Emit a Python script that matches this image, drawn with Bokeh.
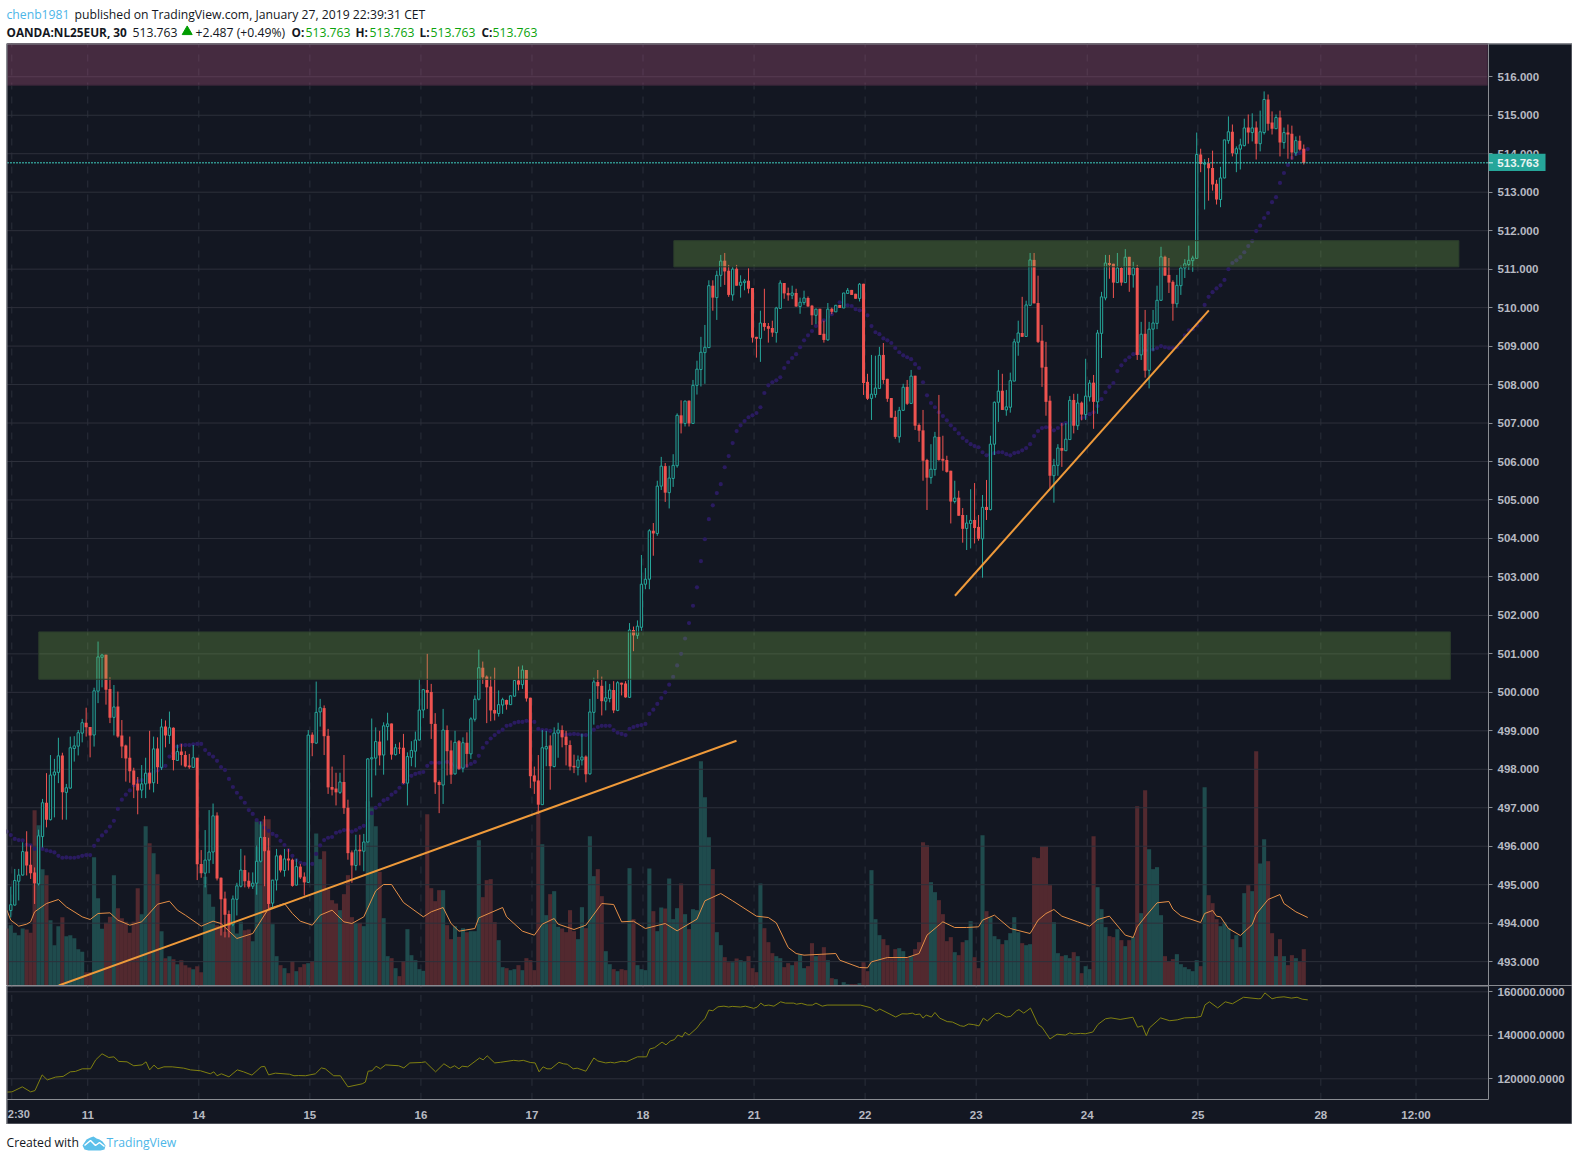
from bokeh.plotting import figure
from bokeh.layouts import column
from bokeh.core.properties import value
from bokeh.models import (Range1d, LinearAxis, FixedTicker, NumeralTickFormatter, Label, Span)
from bokeh.embed import file_html
from bokeh.resources import INLINE

# ---------- data ----------
direction = ("UUUUDDDUUD" "UUUDUUUUUD" "DUUUDDUDDD" "DDDUUDUDUD" "UDUDDDUDDU" "UUDDDDUUUD" "DUUUDDUUDU" "DDUDDUDUUD"
             "DDDUDDDUDU" "UUUDUUDUDD" "UUUUUDDDDU" "DDUDUDUUUD" "DDDUUDUUDU" "DDDDUUDUUD" "DDDUUDUUDD" "UUDUDDUDUU"
             "UUDUUDUUUD" "UDUUUUUDUU" "DDUDUUDDDU" "DDDUUDDUDU" "UDDUDDUDUD" "UUDDUDDUUU" "DDDDUUDUDD" "DDUUDDDDUD"
             "DUUDDUDUUU" "DUUUUDUUDD" "DDDUUDUUDU" "DUUDUUUDDU" "DUDUDUDUUU" "UDDDUUUUUU" "DUDDDUUUDU" "UUDUDUUDDU" "DUDDUDD")

highs = [
494.95,495.41,495.41,496.1,496.39,496.02,495.45,496.43,497.23,497.9,498.37,498.27,498.82,498.43,497.62,498.85,498.86,499.02,499.31,499.6,
499.1,500.12,501.32,501.0,500.98,500.39,500.19,500.02,499.28,498.64,498.85,498.04,497.8,498.11,498.3,499.0,498.85,498.83,499.31,499.27,
499.5,499.09,498.64,498.66,498.47,498.4,498.63,498.3,495.9,496.42,496.94,497.11,496.88,495.19,494.82,494.33,494.72,495.05,495.93,495.76,
495.32,495.32,496.02,496.64,496.79,496.22,495.12,495.93,495.78,495.93,495.93,495.68,495.67,495.54,495.32,499.02,498.96,500.28,
499.83,499.66,499.05,498.07,497.91,497.91,498.37,497.21,495.89,496.3,496.3,496.32,498.29,499.32,499.09,499.0,499.22,499.47,499.19,498.66,
498.7,498.92,498.44,498.73,498.98,500.35,500.09,501.0,500.22,499.46,497.71,499.57,499.14,498.75,499.0,498.76,498.83,498.96,499.35,499.92,
501.11,500.8,500.44,500.41,500.64,500.05,499.86,499.81,499.92,500.32,500.67,500.7,500.58,499.86,498.07,498.37,499.02,499.0,498.88,499.09,
499.21,499.14,499.0,498.75,498.38,498.36,498.92,498.36,499.83,500.38,500.58,500.41,500.29,500.22,500.29,500.29,500.25,500.29,501.8,501.71,
501.87,503.57,503.23,504.24,504.4,505.5,506.12,505.96,505.89,506.19,507.25,507.59,507.58,507.59,508.12,508.62,509.24,509.55,510.71,510.71,
510.96,511.37,511.42,511.11,511.06,511.11,510.84,510.74,511.02,510.51,509.24,509.92,510.49,509.6,509.66,510.02,510.71,510.64,510.52,510.57,
510.49,510.26,510.44,510.29,510.07,509.97,509.97,509.66,510.12,510.0,510.07,510.07,510.38,510.51,510.46,510.36,510.64,510.62,508.28,508.77,
508.75,508.98,509.08,508.15,507.65,507.32,507.42,508.02,508.12,508.38,508.23,506.99,507.34,506.07,506.45,506.77,507.73,506.67,506.15,505.76,
505.5,505.24,504.79,504.61,505.28,505.44,504.61,505.13,505.52,506.67,507.56,508.38,508.28,507.86,508.31,509.19,509.66,510.28,510.18,511.42,
511.42,510.83,509.55,509.11,507.71,506.07,506.45,507.0,507.0,507.7,507.76,507.76,507.56,508.67,508.12,508.25,509.42,510.41,511.37,511.37,
511.14,511.42,511.05,511.52,511.32,511.19,511.11,509.63,509.94,509.63,509.94,510.57,511.58,511.35,511.29,510.71,510.85,511.09,511.26,511.61,
511.35,514.55,514.13,513.86,513.89,514.08,513.32,513.66,514.36,514.97,514.76,514.19,514.39,514.91,515.02,515.05,514.84,515.12,515.62,515.54,
515.1,515.02,515.12,514.68,514.76,514.73,514.45,514.47,514.24]

body_tops = [
494.48,495.11,495.25,495.86,495.86,495.52,495.32,496.27,497.13,497.13,497.85,497.93,498.35,498.36,497.52,498.56,498.61,498.95,499.21,499.21,
499.1,500.04,500.92,500.97,500.98,500.09,499.62,499.63,498.88,498.62,498.3,497.97,497.63,497.62,497.9,497.91,498.53,498.54,499.1,499.11,
499.08,499.08,498.46,498.46,498.37,498.1,498.3,498.3,495.54,495.64,495.85,496.79,496.8,495.18,494.64,494.24,494.63,494.97,495.38,495.38,
495.1,495.04,495.61,496.23,496.24,495.89,495.12,495.75,495.76,495.67,495.68,495.65,495.47,495.47,495.21,498.89,498.9,499.48,
499.6,499.59,498.87,497.54,497.5,497.67,497.67,497.0,495.84,495.9,495.91,496.11,498.27,498.3,498.72,498.72,499.13,499.18,499.19,498.56,
498.56,498.56,498.33,498.49,498.76,499.54,500.07,500.06,500.01,499.18,497.67,499.02,499.02,498.49,498.7,498.73,498.69,498.69,499.31,499.82,
500.64,500.64,500.41,500.15,499.54,499.68,499.81,499.8,499.91,500.31,500.31,500.58,500.58,499.86,497.84,497.71,498.56,498.59,498.62,498.94,
499.02,499.02,498.85,498.63,498.09,498.24,498.32,498.33,499.49,500.27,500.27,500.17,499.86,500.06,500.06,500.25,500.25,500.23,501.62,501.62,
501.72,502.81,502.94,504.2,504.2,505.36,505.88,505.88,505.57,505.9,507.2,507.2,507.57,507.58,507.98,508.4,508.84,508.97,510.57,510.57,
510.84,511.21,511.22,510.96,511.0,511.01,510.66,510.69,510.7,510.51,509.24,509.6,509.6,509.52,509.47,509.99,510.64,510.64,510.38,510.38,
510.38,510.14,510.25,510.25,510.05,509.96,509.97,509.32,509.96,509.97,510.06,510.07,510.38,510.45,510.46,510.36,510.61,510.62,508.07,507.75,
507.91,508.76,508.77,508.15,507.65,507.16,507.33,507.93,507.94,508.22,508.23,506.95,506.81,506.04,505.8,506.64,506.64,506.07,506.04,505.76,
505.05,505.06,504.61,504.4,504.47,504.48,504.3,504.81,504.82,506.45,507.54,507.83,507.84,507.42,508.1,509.11,509.34,509.34,510.07,511.24,
511.24,510.12,509.14,508.46,507.58,505.9,506.35,506.35,506.58,507.59,507.6,507.52,507.53,507.7,508.04,508.05,509.34,510.28,511.16,511.16,
511.14,511.03,511.03,511.31,511.32,511.03,511.03,509.31,509.32,509.44,509.6,510.19,511.32,511.32,510.85,510.67,510.58,511.03,511.14,511.23,
511.29,513.98,513.98,513.76,513.75,513.63,513.22,513.37,514.36,514.57,514.57,514.13,514.23,514.67,514.68,514.67,514.68,514.57,515.41,515.41,
514.81,514.94,514.94,514.55,514.55,514.52,514.34,514.34,514.13]

body_bottoms = [
494.33,494.47,495.09,495.25,495.5,495.3,495.04,495.02,496.25,496.69,496.69,497.85,497.92,497.4,497.4,497.51,498.54,498.6,498.94,499.09,
498.88,498.89,500.03,500.91,500.07,499.34,499.35,498.85,498.59,498.28,497.95,497.6,497.45,497.46,497.62,497.63,497.65,498.05,498.05,498.88,
498.88,498.24,498.23,498.37,498.07,498.05,498.05,495.53,495.3,495.3,495.64,495.85,495.16,494.62,494.22,493.94,493.96,494.62,494.96,495.09,
494.95,494.96,495.04,495.61,495.87,494.5,494.52,495.12,495.37,495.37,495.63,494.97,494.99,495.19,495.06,495.06,498.68,498.68,
499.49,498.86,497.53,497.47,497.4,497.4,496.99,495.82,495.5,495.5,495.87,495.87,496.11,498.27,498.29,498.36,498.37,499.11,498.38,498.38,
498.54,497.64,497.64,498.31,498.47,498.76,499.54,499.99,499.18,497.66,497.59,497.59,498.47,497.86,497.88,498.01,498.03,498.4,498.4,499.3,
499.82,500.39,500.13,499.53,499.45,499.45,499.67,499.68,499.68,499.9,500.2,500.2,499.84,497.82,497.68,497.08,497.08,498.53,498.08,498.07,
498.94,498.83,498.63,498.07,498.05,498.05,498.24,497.87,497.88,499.48,500.16,499.77,499.77,499.84,499.53,499.53,500.2,499.87,499.87,501.48,
501.48,501.69,502.81,502.94,504.13,504.13,505.36,505.19,505.19,505.56,505.89,506.99,506.99,506.99,506.99,507.98,508.39,508.83,508.96,510.26,
510.26,510.84,510.94,510.33,510.33,510.57,510.58,510.65,510.49,509.22,509.19,509.2,509.5,509.45,509.35,509.35,509.98,510.37,510.32,510.32,
510.03,510.03,510.13,510.03,509.8,509.8,509.29,509.16,509.16,509.89,509.89,509.99,509.99,510.37,510.33,510.23,510.24,508.04,507.63,507.64,
507.74,507.9,508.12,507.63,507.14,506.64,506.64,507.33,507.5,507.51,506.93,506.8,506.02,505.58,505.58,505.79,506.04,506.02,505.73,504.96,
504.96,504.59,504.25,504.26,504.39,504.27,503.99,503.99,504.74,504.75,506.45,507.54,507.34,507.34,507.41,508.09,509.1,509.24,509.25,510.06,
510.11,509.11,508.44,507.55,505.63,505.63,505.9,506.28,506.28,506.57,506.93,506.93,507.22,507.22,507.68,507.55,507.55,509.33,510.25,511.11,
510.65,510.65,510.65,510.65,510.85,510.85,508.77,508.77,508.36,508.37,509.44,509.59,510.19,510.83,510.65,510.1,510.1,510.57,511.03,511.12,
511.22,511.28,513.73,513.73,513.62,513.2,512.81,512.81,513.37,514.34,514.01,514.0,514.12,514.21,514.55,514.55,514.26,514.26,514.55,514.78,
514.65,514.65,514.29,514.29,514.5,514.03,514.02,514.11,513.76]

lows = [
494.15,494.46,494.59,495.24,495.24,495.15,494.5,494.98,495.97,496.49,496.67,496.75,497.64,496.69,496.69,497.49,498.2,498.36,498.7,498.85,
498.31,498.59,499.72,500.13,499.68,499.2,498.88,498.82,498.29,497.68,497.65,497.25,496.83,497.25,497.25,497.47,497.4,497.62,497.98,498.57,
498.66,497.97,498.23,498.1,498.05,498.01,498.05,495.12,495.18,494.93,495.3,495.54,495.11,493.68,493.63,493.63,493.92,494.2,494.93,494.93,
494.9,494.89,494.74,495.58,494.96,494.37,494.4,494.85,495.32,495.21,495.37,494.95,494.98,495.15,494.72,495.06,498.34,498.66,
499.11,498.37,497.36,497.32,497.06,497.36,496.84,495.65,495.05,495.37,495.5,495.35,496.1,497.27,497.84,498.1,497.86,498.75,498.25,498.36,
498.4,497.62,497.06,498.08,498.05,498.75,499.33,499.57,498.79,497.36,496.86,497.1,497.84,497.62,497.86,497.98,497.92,498.05,498.27,499.24,
499.79,500.22,499.2,499.25,499.27,499.37,499.44,499.55,499.67,499.89,500.05,500.09,499.76,497.51,497.36,496.84,497.08,498.08,497.47,498.05,
498.3,498.57,498.1,497.97,497.9,497.84,498.1,497.66,497.86,499.16,499.83,499.4,499.53,499.74,499.46,499.51,499.92,499.86,499.86,501.07,
501.39,501.6,502.68,502.68,503.55,504.07,505.26,504.95,504.78,505.34,505.84,506.73,506.91,506.91,506.99,507.74,507.95,508.02,508.96,509.92,
509.68,510.54,510.59,510.28,510.18,510.57,510.26,510.45,510.37,509.09,508.7,508.59,509.4,509.09,509.24,509.09,509.98,510.23,510.18,510.22,
510.02,509.84,510.07,510.02,509.55,509.57,509.29,509.09,509.14,509.83,509.89,509.99,509.99,510.37,510.33,510.23,510.16,507.73,507.6,507.08,
507.66,507.9,508.02,507.55,507.14,506.59,506.49,507.32,507.47,507.5,506.82,506.51,505.5,504.74,505.42,505.63,506.02,505.76,505.71,504.39,
504.91,504.59,503.89,503.7,503.74,503.87,503.94,502.98,504.48,504.73,506.17,507.03,507.34,507.19,507.27,508.09,508.75,509.24,509.24,510.06,
510.11,509.08,507.94,507.19,505.31,504.93,505.63,505.86,506.28,506.56,506.73,506.82,507.07,507.08,507.56,506.85,507.24,508.69,510.19,510.75,
510.25,510.65,510.57,510.65,510.41,510.52,508.64,508.64,508.18,507.9,508.88,509.44,510.18,510.83,510.38,509.66,510.0,510.33,510.77,510.98,
510.93,511.28,513.52,512.55,512.78,513.04,512.68,512.61,513.36,514.26,513.93,513.52,513.59,514.19,514.26,514.32,513.85,514.06,514.5,514.6,
514.5,514.65,513.93,514.13,513.87,513.85,513.95,514.08,513.72]

volume_first = 171
volumes = [
181,158,151,171,168,158,526,481,349,331,196,121,178,205,148,151,142,109,101,40,
40,385,262,170,188,206,331,232,202,191,158,191,292,214,478,427,397,334,163,82,
88,79,64,76,61,54,49,58,40,326,274,236,181,176,161,191,181,156,191,166,
168,133,493,490,499,499,184,88,61,52,37,73,43,55,64,67,73,456,
379,403,288,256,246,226,274,331,205,188,188,178,553,536,478,341,202,88,82,52,
28,73,169,91,76,49,44,514,292,253,286,286,181,139,178,146,172,160,163,163,
436,265,316,319,190,136,55,52,46,49,61,46,82,76,46,526,424,211,274,283,
176,171,160,226,163,139,235,172,448,328,349,268,103,64,49,43,49,46,352,199,
61,49,46,351,223,163,234,231,321,199,232,306,214,169,229,226,673,565,445,349,
160,121,85,70,70,81,76,73,88,52,40,306,172,130,97,88,82,55,67,61,
73,94,52,58,127,88,91,115,76,22,19,1,10,4,4,4,7,70,43,346,
199,151,139,121,82,109,112,103,82,88,109,130,430,421,310,280,256,214,133,145,
100,91,130,136,193,85,52,451,223,205,148,139,124,136,157,205,160,127,121,124,
385,382,418,418,301,190,97,88,91,82,100,88,37,58,49,448,295,229,175,148,
145,169,136,118,136,146,538,217,586,409,349,355,211,88,73,79,94,64,55,49,
43,76,58,595,271,247,199,178,190,172,139,151,115,277,301,283,703,366,439,373,
157,88,139,88,61,91,82,72,109]

vma_idx = [0,1,3,5,6,7,10,13,15,19,21,23,26,28,31,34,38,41,43,45,49,52,54,58,62,66,70,72,74,77,79,82,85,87,90,93,95,97,100,105,107,110,112,114,118,119,125,126,130,133,135,138,139,143,146,150,153,155,158,161,166,169,174,176,180,183,189,192,194,197,199,201,209,210,215,217,218,222,227,230,232,236,239,242,245,246,249,253,258,260,262,264,266,270,273,275,278,282,284,285,287,290,293,294,296,301,302,304,305,306,308,311,314,315,318,321,322,325,328]
vma_val = [226,196,178,184,191,221,246,258,236,206,198,216,218,196,181,191,244,253,226,211,178,193,186,141,156,231,246,216,193,181,211,226,191,186,206,284,303,303,249,206,221,234,186,163,171,203,234,206,163,151,184,201,184,168,181,246,243,191,193,171,186,164,199,254,276,254,208,204,188,114,96,91,96,76,54,53,71,84,84,96,151,191,174,174,176,196,211,171,156,196,216,228,208,191,178,198,208,151,144,176,206,248,252,229,209,189,216,225,208,206,171,150,183,214,258,273,246,221,204]

average_dots = [
496.38,496.29,496.19,496.16,496.15,496.04,496.02,495.93,495.93,495.93,495.89,495.87,495.84,495.75,495.7,495.71,495.7,495.7,495.72,495.75,
495.77,495.77,496.01,496.16,496.28,496.38,496.51,496.66,496.97,497.21,497.34,497.45,497.58,497.69,497.72,497.84,497.88,497.92,497.97,498.05,
498.09,498.33,498.42,498.59,498.63,498.63,498.63,498.65,498.66,498.66,498.5,498.4,498.33,498.22,498.06,497.98,497.75,497.54,497.39,497.26,
497.13,496.94,496.84,496.68,496.61,496.48,496.4,496.32,496.27,496.14,496.03,495.9,495.75,495.64,495.57,495.54,495.54,495.54,495.8,
496.02,496.16,496.22,496.24,496.35,496.38,496.42,496.42,496.38,496.42,496.48,496.53,496.67,496.86,497.0,497.08,497.19,497.23,497.34,497.41,
497.52,497.64,497.72,497.83,497.88,497.91,497.93,498.09,498.17,498.17,498.17,498.17,498.19,498.14,498.09,498.04,498.04,498.09,498.14,498.19,
498.35,498.56,498.69,498.8,498.89,498.97,499.03,499.13,499.15,499.21,499.23,499.23,499.26,499.24,499.23,499.05,499.02,499.02,499.0,498.89,
498.97,498.89,498.9,498.91,498.92,498.91,498.89,498.89,498.94,499.03,499.1,499.13,499.13,499.13,499.02,498.95,498.92,498.89,499.05,499.1,
499.13,499.15,499.18,499.44,
499.55,499.7,499.85,500.0,500.2,500.4,500.7,501.0,501.4,501.8,502.25,
502.73,503.41,503.98,504.5,504.86,505.18,505.41,505.85,506.14,506.48,506.79,506.94,507.05,507.15,507.2,507.26,507.41,507.78,507.98,508.06,
508.11,508.19,508.43,508.58,508.69,508.79,508.97,509.15,509.28,509.39,509.52,509.61,509.67,509.76,509.83,510.0,510.14,510.07,510.06,510.04,
509.96,509.93,509.92,509.8,509.52,509.36,509.31,509.2,509.15,509.08,508.95,508.84,508.76,508.71,508.66,508.53,508.43,508.06,507.72,507.52,
507.41,507.28,507.18,507.07,506.94,506.84,506.73,506.61,506.53,506.45,506.4,506.37,506.24,506.16,506.19,506.22,506.24,506.24,506.19,506.16,
506.22,506.24,506.29,506.35,506.45,506.66,506.79,506.87,506.89,506.89,506.81,506.87,506.97,507.0,507.0,507.01,507.06,507.13,507.16,507.23,
507.28,507.44,507.62,507.8,507.94,508.04,508.35,508.5,508.63,508.71,508.79,508.81,508.88,508.89,508.89,508.91,508.95,509.0,508.97,508.95,
508.95,508.97,509.1,509.28,509.41,509.44,509.54,509.67,510.07,510.28,510.4,510.5,510.58,510.72,511.0,511.16,511.23,511.31,511.44,511.6,
511.73,511.99,512.13,512.33,512.46,512.74,512.87,513.24,513.5,513.71,513.89,513.99,514.02,514.08,514.12]

osc_idx = [0.1,1.3,3.9,6,7.1,8.9,10.2,12.3,14.2,16,17.3,19,21.1,22.4,24,25.7,27,28.2,30.3,32,34.1,35.1,36,37.1,38.1,39.6,41.7,44.6,46.3,48.8,51.3,52.2,53,54.1,56,58.1,59.7,61.8,64.1,65,66,67.7,71.3,72.4,73.6,75.3,77.8,79.3,80.3,82.4,84.1,86,89.6,90.4,91.1,92.1,93.1,94.2,95.5,98.8,100.1,101.6,104.5,105.5,108.1,110.2,111.8,112.9,114,114.8,116.2,119.2,120.1,121.1,
123,124.5,127.8,129.1,130.2,132,133.2,134.2,135.2,136.2,137.2,139.2,140.3,141.3,142.8,143.8,146,148,149,151,152.2,153.2,155.1,156.2,159,161.3,162.1,163.3,165.2,166.2,167.3,168.3,169.2,170.3,171,172,174,175.1,176,177,178,179.3,180.8,182,182.9,185,186.2,188.3,189.2,190.1,191,192.1,193.4,195.1,
196.3,198.4,199.1,200.3,201.8,203.1,204,205.6,206.8,215.2,217.8,219.2,220.1,224.1,225.7,227,228.3,229.1,230.2,231,231.8,233.1,234,235.2,237.1,238.4,240.4,241.3,242.5,243.8,245.1,246.2,247.2,249.3,250.1,252,253.1,254.6,255.2,256.4,258.1,260,261,263,264.8,266.9,268,269,270.7,
271.9,273.8,275.1,277,278.4,280.7,283.9,285.1,286.3,287.3,288.1,290.9,293.2,295.1,296.9,299.7,301.1,302.1,303.2,305.3,307.2,309,311.8,315.5,316.2,317.2,319,320.2,322,323.9,325.3,326.6,328]
osc_val = [113900,114000,116300,114000,114600,121800,119500,120800,121100,123200,123400,124600,124600,128700,131500,129800,130100,128000,127800,126000,126400,127800,124100,126300,124600,125500,125500,124900,124100,123700,122300,123200,121400,122300,120900,124100,123200,121700,125500,125700,121800,122600,122100,121400,121500,121400,122300,125000,124600,121400,121400,116300,117700,118500,123500,123700,125800,124600,126400,126000,125000,127300,127500,127800,123200,126900,125000,126000,124600,125800,125500,129600,128700,130600,
127300,127600,128500,128200,128500,127500,127300,123200,125500,124600,124600,127600,126900,126700,124600,124900,123500,129600,128200,127300,127600,127300,128100,127800,130100,130100,133700,134300,136900,135600,137400,138000,140100,139200,141400,140100,143400,146100,147600,151600,151300,153100,153400,153000,153300,153000,153400,152400,153000,154800,153600,153900,153400,155400,
154800,154800,154300,154700,153900,153900,154800,153400,153900,153900,152700,151100,152100,148400,149900,149800,150200,149500,149800,147900,149300,148400,150500,147900,146300,146100,144400,144100,145200,144900,144300,147900,146600,149900,150200,148400,148700,151300,151800,150200,152500,145000,143700,138300,140500,140100,141100,140600,140900,
140700,141500,145000,147600,148000,147300,148300,143700,144400,139800,143400,148000,146700,147100,148000,148200,148700,154000,155400,152600,155400,154500,157500,156800,156900,159500,156800,157400,157700,157100,157500,156600,156300]

price_ticks = list(range(493, 517))
osc_ticks = [120000, 140000, 160000]
time_ticks = [1.25, 20.4, 48.4, 76.4, 104.4, 132.4, 160.4, 188.4, 216.4, 244.4, 272.4, 300.3, 331.3, 355.3]
time_labels = ["2:30", "11", "14", "15", "16", "17", "18", "21", "22", "23", "24", "25", "28", "12:00"]
last_price = 513.763

green_zones_left = [8.06, 168.17]
green_zones_right = [363.96, 366.1]
green_zones_top = [501.57, 511.74]
green_zones_bottom = [500.34, 511.06]
supply_zone = (0.17, 373.3, 515.78, 516.86)
trend_a_x, trend_a_y = [13.1, 183.97], [492.38, 498.74]
trend_b_x, trend_b_y = [239.05, 303.06], [502.51, 509.93]

assert len(direction) == len(highs) == len(body_tops) == len(body_bottoms) == len(lows) == len(volumes) == 327
assert len(vma_idx) == len(vma_val) and len(osc_idx) == len(osc_val)

# ---------- style ----------
BG = "#131722"; EDGE = "#8a8d93"; GRID = "#2d303b"; VGRID = "#2a2f3a"
TEAL = "#26a69a"; RED = "#ef5350"; ORANGE = "#ef9a3a"; AXIS_TXT = "#b7bac2"
VOL_UP = "#1f4b4d"; VOL_DOWN = "#52292f"
idx = list(range(1, 328))
up = [c == "U" for c in direction]
PANE_L, PANE_END, PANE_R = 0.042, 373.58, 394.62   # left edge, price axis, outer right edge
x_range = Range1d(-0.084, 394.75)

def blank(w, h):
    f = figure(width=w, height=h, output_backend="svg", toolbar_location=None,
               x_axis_location=None, y_axis_location=None,
               x_range=Range1d(0, w), y_range=Range1d(h, 0),
               min_border=0, outline_line_color=None)
    f.grid.visible = False
    return f

# ---------- header ----------
header = blank(1572, 43)
FONT = "Open Sans"
def head(x, y, s, color="#131722", style="normal", size="12.2px"):
    header.add_layout(Label(x=x, y=y, text=s, text_color=color, text_font=FONT, text_font_size=size,
                            text_font_style=style, text_baseline="middle", text_align="left"))
BLUE = "#4db6e8"; GREEN = "#0aa30a"
head(6, 13.5, "chenb1981", BLUE)
head(74, 13.5, "published on TradingView.com, January 27, 2019 22:39:31 CET")
head(6, 31.5, "OANDA:NL25EUR, 30", style="bold", size="11.8px")
head(132, 31.5, "513.763")
header.scatter([186.7], [31.2], marker="triangle", size=10, color="#009c00")
head(195, 31.5, "+2.487 (+0.49%)")
for lab, lx, vx_ in (("O:", 291, 305), ("H:", 355, 369), ("L:", 419, 430), ("C:", 481, 492)):
    head(lx, 31.5, lab, style="bold", size="11.8px")
    head(vx_, 31.5, "513.763", GREEN)

# ---------- panes ----------
def pane(h, y_range):
    f = figure(width=1566, height=h, output_backend="svg", toolbar_location=None,
               x_range=x_range, y_range=y_range, x_axis_location=None, y_axis_location=None,
               min_border=0, background_fill_color=BG, border_fill_color=BG,
               outline_line_color=None, margin=(0, 0, 0, 6))
    f.grid.visible = False
    for loc in (PANE_L, PANE_R):
        f.add_layout(Span(location=loc, dimension="height", line_color=EDGE, line_width=1))
    return f

def right_axis(f, ticks, fmt, bounds):
    ax = LinearAxis(ticker=FixedTicker(ticks=ticks), formatter=NumeralTickFormatter(format=fmt),
                    fixed_location=PANE_END, bounds=bounds,
                    major_label_text_font="Liberation Sans", major_label_text_font_size="11.5px",
                    major_label_text_color=AXIS_TXT, major_label_text_font_style="bold",
                    axis_line_color=EDGE, major_tick_line_color=EDGE, major_tick_out=4, major_tick_in=0,
                    minor_tick_line_color=None, major_label_standoff=5)
    f.add_layout(ax, "right")

def h_grid(f, ticks):
    f.segment([PANE_L] * len(ticks), ticks, [PANE_END] * len(ticks), ticks, line_color=GRID, line_width=1)

P_BOTTOM, P_TOP = 492.38, 516.865
p = pane(942, Range1d(P_BOTTOM, P_TOP))
p.extra_y_ranges = {"vol": Range1d(0, 2826)}
p.segment(time_ticks, [P_BOTTOM] * len(time_ticks), time_ticks, [P_TOP] * len(time_ticks),
          line_color=VGRID, line_dash="7 7", line_width=1, level="underlay")

vx = [0] + idx
vv = [volume_first] + volumes
vup = [False] + up
p.vbar(x=vx, top=vv, bottom=0, width=1.03, y_range_name="vol",
       fill_color=[VOL_UP if u else VOL_DOWN for u in vup], line_color=None)
h_grid(p, price_ticks)
right_axis(p, price_ticks, "0.000", (P_BOTTOM, P_TOP))
p.line(vma_idx, vma_val, y_range_name="vol", line_color="#e58f47", line_width=1)

dot_x = list(range(0, len(average_dots)))
p.scatter(dot_x, average_dots, size=4.2, color="#2a1b60", line_color=None)

ux = [i for i, u in zip(idx, up) if u]; dx = [i for i, u in zip(idx, up) if not u]
def pick(a, flag):
    return [v for v, u in zip(a, up) if u == flag]
p.segment(ux, pick(highs, True), ux, pick(lows, True), line_color=TEAL, line_width=1)
p.segment(dx, pick(highs, False), dx, pick(lows, False), line_color=RED, line_width=1)
p.vbar(x=ux, top=pick(body_tops, True), bottom=pick(body_bottoms, True), width=0.58, fill_color=BG, line_color=TEAL, line_width=1)
p.vbar(x=dx, top=pick(body_tops, False), bottom=pick(body_bottoms, False), width=0.76, fill_color=RED, line_color=None)

p.quad(left=green_zones_left, right=green_zones_right, top=green_zones_top, bottom=green_zones_bottom,
       fill_color="#7eba4d", fill_alpha=0.28, line_color="#2b3d2c", line_width=1)
p.quad(left=[supply_zone[0]], right=[supply_zone[1]], bottom=[supply_zone[2]], top=[supply_zone[3]],
       fill_color="#ba5a89", fill_alpha=0.3, line_color="#362437", line_width=1)
p.line(trend_a_x, trend_a_y, line_color=ORANGE, line_width=2)
p.line(trend_b_x, trend_b_y, line_color=ORANGE, line_width=2)
p.segment([PANE_L], [last_price], [PANE_END], [last_price], line_color="#3fcfc0", line_dash="2 1", line_width=1)
p.segment([PANE_L], [516.852], [PANE_R], [516.852], line_color=EDGE, line_width=1)
# last-price tag, drawn over the axis labels
p.quad(left=[373.65], right=[387.95], bottom=[513.55], top=[514.0], fill_color=TEAL, line_color=None, level="overlay")
p.segment([373.6], [last_price], [374.7], [last_price], line_color="#e8f4f2", line_width=1, level="overlay")
p.text(x=[375.8], y=[last_price], text=["513.763"], text_color="#e8f4f2", text_font=value("Liberation Sans"),
       text_font_size="11.5px", text_font_style="bold", text_baseline="middle", text_align="left", level="overlay")

O_BOTTOM, O_TOP = 98989, 162900
O_AXIS = 110340
o = pane(139, Range1d(O_BOTTOM, O_TOP))
o.segment(time_ticks, [O_AXIS] * len(time_ticks), time_ticks, [O_TOP] * len(time_ticks),
          line_color=VGRID, line_dash="7 7", line_width=1, level="underlay")
h_grid(o, osc_ticks)
right_axis(o, osc_ticks, "0.0000", (O_AXIS, O_TOP))
o.line(osc_idx, osc_val, line_color="#808010", line_width=1)
o.segment([PANE_L], [162667], [PANE_END], [162667], line_color=EDGE, line_width=1)
o.segment([PANE_L], [99218], [PANE_R], [99218], line_color=EDGE, line_width=1)
tax = LinearAxis(ticker=FixedTicker(ticks=time_ticks[1:]), fixed_location=O_AXIS, bounds=(PANE_L, PANE_END),
                 major_label_overrides=dict(zip(time_ticks[1:], time_labels[1:])),
                 major_label_text_font="Liberation Sans", major_label_text_font_size="11.5px",
                 major_label_text_color=AXIS_TXT, major_label_text_font_style="bold",
                 axis_line_color=EDGE, major_tick_line_color=None, minor_tick_line_color=None,
                 major_label_standoff=3)
o.add_layout(tax, "below")
# first time label sits against the pane's left edge
o.text(x=[0.25], y=[104046], text=[time_labels[0]], text_color=AXIS_TXT, text_font=value("Liberation Sans"),
       text_font_size="11px", text_font_style="bold", text_baseline="middle", text_align="left")

# ---------- footer ----------
foot = blank(1572, 34)
foot.add_layout(Label(x=6, y=18, text="Created with", text_color="#131722", text_font=FONT, text_font_size="12.2px", text_baseline="middle"))
foot.add_layout(Label(x=106, y=18, text="TradingView", text_color=BLUE, text_font=FONT, text_font_size="12.2px", text_baseline="middle"))
foot.patch([82, 86, 90, 93, 96, 99, 102, 105, 104, 100, 88, 84], [21, 15, 13, 12, 14, 15, 17, 21, 25, 26, 26, 25], color="#5cc0ea", line_color=None)
foot.line([84, 90, 95, 99, 104], [21, 16, 21, 18, 22], line_color="white", line_width=1.5)

page = column(header, p, o, foot, spacing=0)
open("out.html", "w").write(file_html(page, INLINE))
